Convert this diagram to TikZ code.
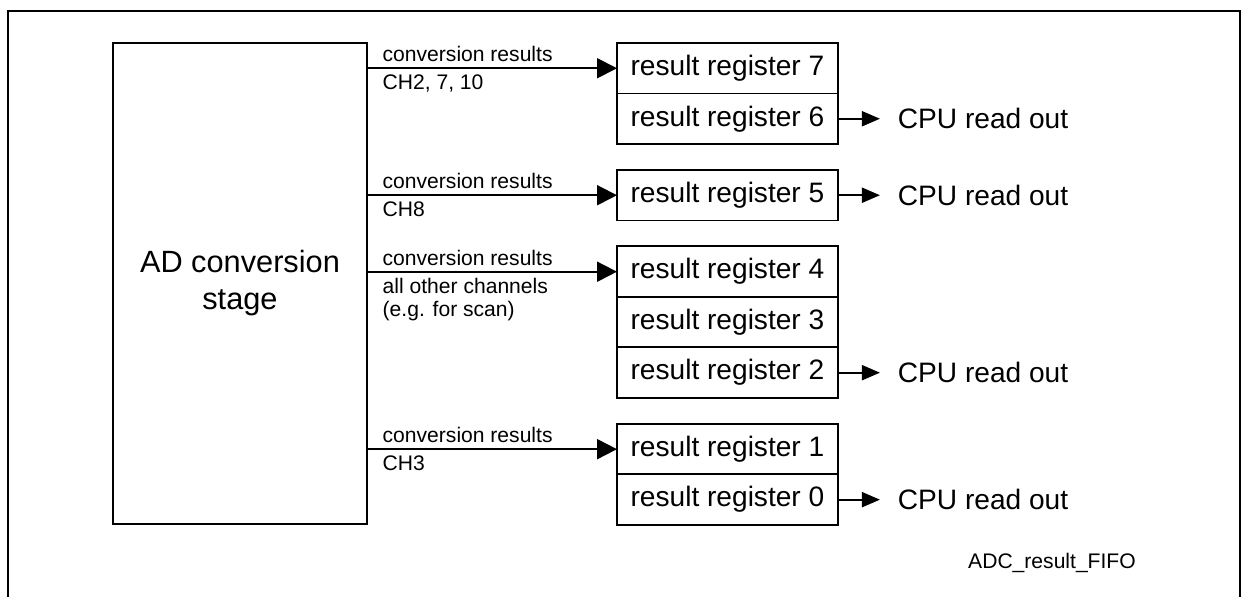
\documentclass[tikz,border=0pt]{standalone}
\usepackage{fontspec}
\setmainfont{Liberation Sans}
\usetikzlibrary{positioning,arrows.meta}
\definecolor{FrameBlack}{HTML}{000000}

\begin{document}
\begin{tikzpicture}[x=0.02cm, y=-0.02cm, line width=1.1pt, every node/.style={font=\fontsize{16}{19}\selectfont}]
  \tikzstyle{stage}=[rectangle, draw=FrameBlack, outer sep=0pt, minimum width=5.08cm, minimum height=9.62cm,
  align=center, font=\fontsize{17.5}{21}\selectfont]
  \tikzstyle{regbox}=[rectangle, draw=FrameBlack, outer sep=0pt, minimum width=4.42cm, minimum height=1.01cm, inner sep=0pt]
  \tikzstyle{cpu}=[inner sep=3pt]
  \tikzstyle{lblup}=[anchor=south west, inner sep=3pt, xshift=0.19cm, font=\fontsize{12}{13.5}\selectfont]
  \tikzstyle{lbldown}=[anchor=north west, inner sep=3pt, xshift=0.19cm, align=left, font=\fontsize{12}{13.5}\selectfont]
  \tikzstyle{feed}=[-{Triangle[length=0.4cm, width=0.4cm]}, color=FrameBlack]
  \tikzstyle{readout}=[-{Triangle[length=0.36cm, width=0.3cm]}, shorten >=0.234cm, color=FrameBlack]
  \useasboundingbox (0,0) rectangle (1242,596);
  \clip (0,0) rectangle (1242,596);
  \draw[FrameBlack] (8,11) rectangle (1240,640);
  \node[stage, anchor=north west] (ad) at (113,43) {AD conversion\\stage};
  \node[regbox, anchor=north west] (reg7) at (617,43) {result register 7};
  \node[regbox, below=0cm of reg7] (reg6) {result register 6};
  \node[regbox, below=0.52cm of reg6] (reg5) {result register 5};
  \node[regbox, below=0.52cm of reg5] (reg4) {result register 4};
  \node[regbox, below=0cm of reg4] (reg3) {result register 3};
  \node[regbox, below=0cm of reg3] (reg2) {result register 2};
  \node[regbox, below=0.52cm of reg2] (reg1) {result register 1};
  \node[regbox, below=0cm of reg1] (reg0) {result register 0};
  \node[cpu, right=1.074cm of reg6] (cpu6) {CPU read out};
  \node[cpu, right=1.074cm of reg5] (cpu5) {CPU read out};
  \node[cpu, right=1.074cm of reg2] (cpu2) {CPU read out};
  \node[cpu, right=1.074cm of reg0] (cpu0) {CPU read out};
  \draw[feed] (ad.east |- reg7.west) -- (reg7.west);
  \draw[feed] (ad.east |- reg5.west) -- (reg5.west);
  \draw[feed] (ad.east |- reg4.west) -- (reg4.west);
  \draw[feed] (ad.east |- reg1.west) -- (reg1.west);
  \node[lblup] (up7) at (ad.east |- reg7.west) {conversion results};
  \node[lbldown] (dn7) at (ad.east |- reg7.west) {CH2, 7, 10};
  \node[lblup] (up5) at (ad.east |- reg5.west) {conversion results};
  \node[lbldown] (dn5) at (ad.east |- reg5.west) {CH8};
  \node[lblup] (up4) at (ad.east |- reg4.west) {conversion results};
  \node[lbldown] (dn4) at (ad.east |- reg4.west) {all other channels\\(e.g. for scan)};
  \node[lblup] (up1) at (ad.east |- reg1.west) {conversion results};
  \node[lbldown] (dn1) at (ad.east |- reg1.west) {CH3};
  \draw[readout] (reg6) -- (cpu6);
  \draw[readout] (reg5) -- (cpu5);
  \draw[readout] (reg2) -- (cpu2);
  \draw[readout] (reg0) -- (cpu0);
  \node[font=\fontsize{12}{14}\selectfont] (fifo) at (1052,563) {ADC\_result\_FIFO};
\end{tikzpicture}
\end{document}
